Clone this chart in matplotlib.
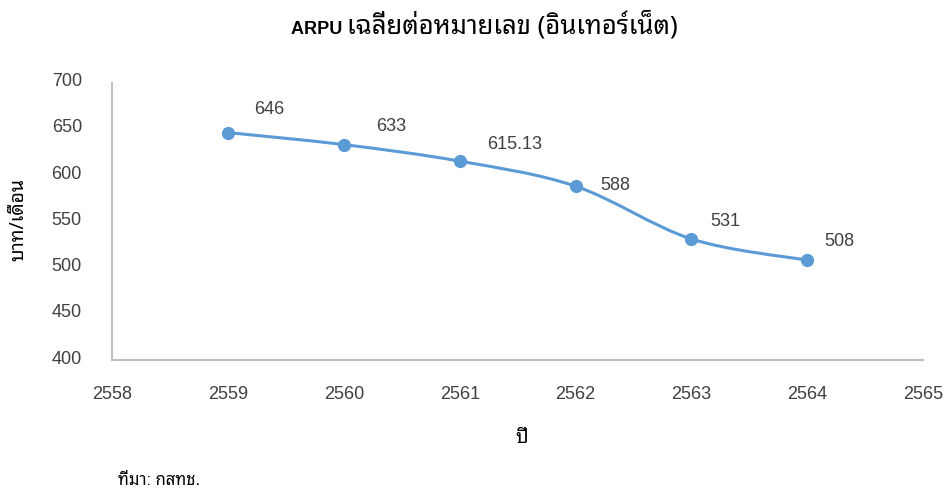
import matplotlib
matplotlib.use("Agg")
import matplotlib.pyplot as plt
from matplotlib import font_manager
from matplotlib.ft2font import FT2Font
from matplotlib.path import Path
from matplotlib.patches import PathPatch
from matplotlib.transforms import ScaledTranslation
import numpy as np

# ---------------- data ----------------
years = [2559, 2560, 2561, 2562, 2563, 2564]
arpu = [646, 633, 615.13, 588, 531, 508]
value_labels = ["646", "633", "615.13", "588", "531", "508"]
x_ticks = [2558, 2559, 2560, 2561, 2562, 2563, 2564, 2565]
y_ticks = [400, 450, 500, 550, 600, 650, 700]

title_latin = "ARPU "
title_thai = "เฉลี่ยต่อหมายเลข (อินเทอร์เน็ต)"
y_label = "บาท/เดือน"
x_label = "ปี"
source = "ที่มา: กสทช."

# label offsets in pixels (style only)
label_dx = [26, 32, 27, 25, 19, 17]
label_dy = [23, 18, 17, 1, 17, 19]

# ---------------- fonts ----------------
def find_thai_font():
    cands = []
    for f in font_manager.findSystemFonts():
        try:
            ft = FT2Font(f)
            cm = ft.get_charmap()
            if 0x0E01 in cm and 0x0E40 in cm and 0x0041 in cm:
                cands.append((f, ft.family_name))
        except Exception:
            pass
    pref = ["Tahoma", "Leelawadee", "Noto Sans Thai", "Sarabun", "Loma", "Garuda",
            "Norasi", "Waree", "Umpush", "Kinnari", "Noto Sans", "DejaVu Sans"]
    for p in pref:
        for f, n in cands:
            if p.lower() in n.lower():
                return n
    return cands[0][1] if cands else None

thai = find_thai_font()
families = ["Liberation Sans"]
if thai:
    families.append(thai)
families.append("DejaVu Sans")
plt.rcParams["font.family"] = families
thai_fam = [thai or "DejaVu Sans", "DejaVu Sans"]

text_color = "#404040"
blue = "#5B9BD5"
spine_color = "#BFBFBF"

fig = plt.figure(figsize=(9.45, 4.9), dpi=100)
ax = fig.add_axes([0.119, 0.2653, 0.8577, 0.5659])

x = np.array(years, dtype=float)
y = np.array(arpu, dtype=float)

# Excel-like smoothed line via cubic Bezier segments (tension 1/6)
verts = [(x[0], y[0])]
codes = [Path.MOVETO]
n = len(x)
for i in range(n - 1):
    p0 = (x[i - 1], y[i - 1]) if i > 0 else (x[i], y[i])
    p1 = (x[i], y[i])
    p2 = (x[i + 1], y[i + 1])
    p3 = (x[i + 2], y[i + 2]) if i + 2 < n else (x[i + 1], y[i + 1])
    c1 = (p1[0] + (p2[0] - p0[0]) / 6, p1[1] + (p2[1] - p0[1]) / 6)
    c2 = (p2[0] - (p3[0] - p1[0]) / 6, p2[1] - (p3[1] - p1[1]) / 6)
    verts += [c1, c2, p2]
    codes += [Path.CURVE4] * 3
ax.add_patch(PathPatch(Path(verts, codes), facecolor="none", edgecolor=blue,
                       lw=2.2, capstyle="round", zorder=2))
ax.plot(x, y, linestyle="none", marker="o", markersize=8.5, color=blue, zorder=3)

for xi, yi, lab, dx, dy in zip(x, y, value_labels, label_dx, label_dy):
    ax.annotate(lab, (xi, yi), xytext=(dx * 0.72, dy * 0.72), textcoords="offset points",
                ha="left", va="center", fontsize=13, color=text_color)

ax.set_xlim(2558, 2565)
ax.set_ylim(400, 700)
ax.set_xticks(x_ticks)
ax.set_yticks(y_ticks)
ax.tick_params(axis="both", length=0, labelsize=13, colors=text_color)
ax.tick_params(axis="x", pad=18.5)
ax.tick_params(axis="y", pad=22)
shift_up = ScaledTranslation(0, 3 / 100, fig.dpi_scale_trans)
for lbl in ax.get_yticklabels():
    lbl.set_transform(lbl.get_transform() + shift_up)
for s in ["top", "right"]:
    ax.spines[s].set_visible(False)
for s in ["left", "bottom"]:
    ax.spines[s].set_color(spine_color)
    ax.spines[s].set_linewidth(1.5)

# title in two parts: Latin in Arial-like font, Thai part in the Thai font
ty = 1 - 34 / 490
t1 = fig.text(0, ty, title_latin, ha="left", va="baseline", fontsize=13,
              fontweight="bold", color="#000000")
t2 = fig.text(0, ty, title_thai, ha="left", va="baseline", fontsize=18.5,
              fontweight="bold", color="#000000", family=thai_fam)
fig.canvas.draw()
r = fig.canvas.get_renderer()
w1 = t1.get_window_extent(r).width
w2 = t2.get_window_extent(r).width
x0 = 484.5 - (w1 + w2) / 2
t1.set_x(x0 / 945)
t2.set_x((x0 + w1) / 945)

fig.text(18 / 945, 1 - 219 / 490, y_label, rotation=90, ha="center", va="center",
         fontsize=14, color="#000000", family=thai_fam)
fig.text(522 / 945, 1 - 438 / 490, x_label, ha="center", va="center", fontsize=14,
         color="#000000", family=thai_fam)
fig.text(118 / 945, 1 - 480 / 490, source, ha="left", va="center", fontsize=12,
         color="#000000")

fig.savefig("out.png", dpi=100)
